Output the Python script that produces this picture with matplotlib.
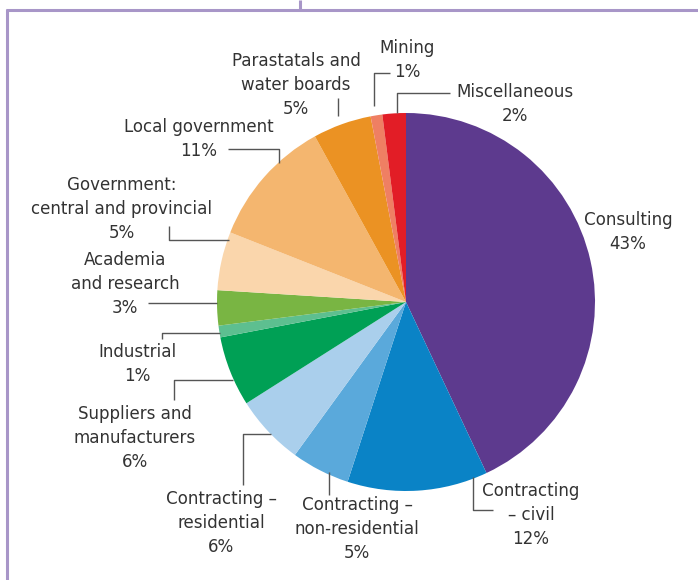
import matplotlib.pyplot as plt
from matplotlib.lines import Line2D

sectors = ['Consulting', 'Contracting\n– civil', 'Contracting –\nnon-residential',
           'Contracting –\nresidential', 'Suppliers and\nmanufacturers', 'Industrial',
           'Academia\nand research', 'Government:\ncentral and provincial',
           'Local government', 'Parastatals and\nwater boards', 'Mining', 'Miscellaneous']
shares = [43, 12, 5, 6, 6, 1, 3, 5, 11, 5, 1, 2]
colors = ['#5d3a8e', '#0a83c6', '#5aa9db', '#aacfec', '#00a055', '#5dbf90',
          '#79b543', '#fad6ac', '#f4b66f', '#eb9223', '#ef7f63', '#e21d26']

# label centres and leader lines, in pixel coordinates
label_pos = [(628, 232), (531, 515), (357, 529), (221, 523), (135, 438), (137, 364),
             (125, 284), (122, 209), (199, 139), (296, 85), (407, 60), (515, 104)]
leaders = [
    None,
    [(473, 477), (473, 510), (493, 510)],
    [(329, 472), (329, 495)],
    [(271, 434), (243, 434), (243, 485)],
    [(233, 380), (174, 380), (174, 400)],
    [(220, 333), (162, 333), (162, 339)],
    [(217, 303), (148, 303)],
    [(229, 240), (169, 240), (169, 226)],
    [(279, 163), (279, 149), (228, 149)],
    [(338, 116), (338, 98)],
    [(374, 106), (374, 73), (390, 73)],
    [(397, 113), (397, 93), (450, 93)],
]

fig = plt.figure(figsize=(6.98, 5.8), dpi=100)
ax = fig.add_axes([0, 0, 1, 1])

# y grows downwards, so the pie runs "counterclock" from -90 to go clockwise
ax.pie(shares, colors=colors, center=(406, 302), radius=189,
       startangle=-90, counterclock=True, frame=True,
       wedgeprops=dict(linewidth=0))
ax.set_xlim(0, 698)
ax.set_ylim(580, 0)
ax.set_aspect('equal')
ax.axis('off')

for name, val, (x, y) in zip(sectors, shares, label_pos):
    ax.text(x, y, f'{name}\n{val}%', ha='center', va='center', multialignment='center',
            fontsize=13.3, fontstretch='condensed', color='#333333', linespacing=1.4)

for pts in leaders:
    if pts:
        xs, ys = zip(*pts)
        ax.plot(xs, ys, color='#555555', lw=1.0, solid_capstyle='butt')

# panel frame
frame = dict(color='#a896c8', lw=2.2, solid_capstyle='butt')
ax.add_line(Line2D([7, 7], [9, 580], **frame))
ax.add_line(Line2D([6, 698], [9.5, 9.5], **frame))
ax.add_line(Line2D([300, 300], [0, 9], **frame))

fig.savefig('out.png', dpi=100)
